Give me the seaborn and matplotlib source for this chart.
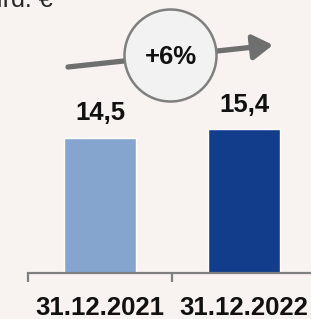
import matplotlib

matplotlib.use("Agg")
import matplotlib.pyplot as plt
import numpy as np
import pandas as pd
import seaborn as sns
from matplotlib.patches import Circle, FancyArrowPatch
from matplotlib.transforms import IdentityTransform

# data
dates = ["31.12.2021", "31.12.2022"]
values = [14.5, 15.4]
value_labels = ["14,5", "15,4"]
bar_colors = ["#85a5cf", "#123d8a"]
growth_label = "+6%"
unit_label = "Mrd. €"

BG = "#f8f3f0"
GREY = "#7f7f7f"

sns.set_theme(style="white")
plt.rcParams["font.family"] = ["Liberation Sans", "DejaVu Sans"]

df = pd.DataFrame({"date": dates, "value": values})

W, H = 311, 319
fig = plt.figure(figsize=(W / 100, H / 100), dpi=100, facecolor=BG)
ax = fig.add_axes([28 / W, 46 / H, 288 / W, 273 / H])
ax.set_facecolor(BG)

sns.barplot(
    data=df,
    x="date",
    y="value",
    hue="date",
    palette=bar_colors,
    width=0.5,
    legend=False,
    saturation=1,
    ax=ax,
)

ax.set_xlim(-0.5, 1.5)
ax.set_ylim(0, 29.25)
ax.set_xlabel("")
ax.set_ylabel("")
ax.set_yticks([])
for side in ["top", "left", "right"]:
    ax.spines[side].set_visible(False)
ax.spines["bottom"].set_color(GREY)
ax.spines["bottom"].set_linewidth(1.6)

# boundary ticks between categories
ax.set_xticks([-0.5, 0.5, 1.5], minor=True)
ax.tick_params(
    axis="x", which="minor", bottom=True, length=6.5, width=1.6, color=GREY, direction="out"
)
ax.tick_params(axis="x", which="major", bottom=True, length=0, pad=16.5)
for lbl in ax.get_xticklabels():
    lbl.set_fontsize(18.5)
    lbl.set_fontweight("bold")
    lbl.set_color("#111111")

for i, (v, txt) in enumerate(zip(values, value_labels)):
    ax.annotate(
        txt,
        (i, v),
        xytext=(0, 12.5),
        textcoords="offset points",
        ha="center",
        va="baseline",
        fontsize=18.5,
        fontweight="bold",
        color="#111111",
    )

# growth arrow with circle badge (pixel coordinates)
arrow = FancyArrowPatch(
    (68, H - 67),
    (273, H - 45),
    transform=IdentityTransform(),
    arrowstyle="-|>,head_length=12,head_width=7.5",
    mutation_scale=1,
    color="#6f6f6f",
    lw=3.8,
    shrinkA=0,
    shrinkB=0,
)
fig.patches.append(arrow)
circ = Circle(
    (170.5, H - 55.5),
    46,
    transform=IdentityTransform(),
    facecolor="#f2f2f2",
    edgecolor=GREY,
    lw=1.8,
    zorder=3,
)
fig.patches.append(circ)
fig.text(
    170.5 / W,
    1 - 57.5 / H,
    growth_label,
    ha="center",
    va="center",
    fontsize=18.5,
    fontweight="bold",
    color="#111111",
    zorder=4,
)

# unit label, cut off at the top-left edge as in the source
fig.text(53 / W, 1 - 7 / H, unit_label, ha="right", va="baseline", fontsize=18, color="#262626")

fig.savefig("out.png", dpi=100, facecolor=BG)
